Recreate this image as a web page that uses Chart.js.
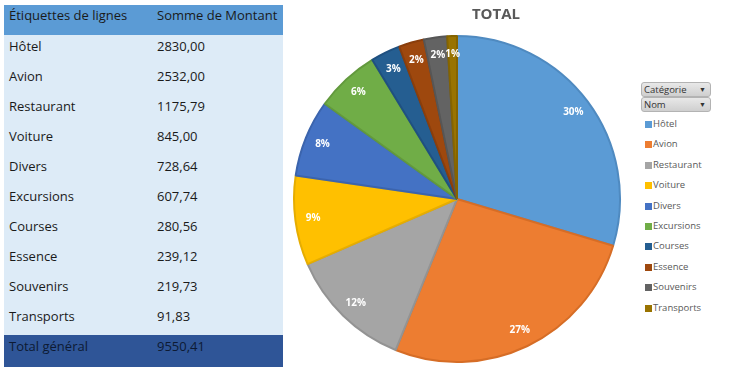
<!DOCTYPE html>
<html>
<head>
<meta charset="utf-8">
<script src="https://cdn.jsdelivr.net/npm/chart.js@4"></script>
<style>
  body { margin: 0; background: #fff; width: 735px; height: 377px; overflow: hidden; position: relative; font-family: "Open Sans", sans-serif; }
  #tbl { position: absolute; left: 4px; top: 5px; width: 279px; border-collapse: collapse; font-size: 13px; color: #1a1a1a; }
  #tbl td { box-sizing: border-box; height: 30px; padding: 0 0 9px 5px; line-height: 16px; vertical-align: middle; white-space: nowrap; }
  #tbl tr.head td { background: #5b9bd5; padding-bottom: 10px; }
  #tbl tr.row td { background: #ddebf7; }
  #tbl tr.total td { background: #2f5597; height: 32px; color: #0d1a33; padding-bottom: 10px; }
  #tbl td.c2 { padding-left: 0; }
  #wrap { position: absolute; left: 290px; top: 0; width: 334px; height: 377px; }
  #title { position: absolute; left: 446px; width: 100px; top: 3px; text-align: center; font-weight: bold; font-size: 15px; color: #595959; line-height: 20px; }
  .btn { position: absolute; left: 641px; width: 66px; height: 13px; border: 1px solid #b3b3b3; border-radius: 3px;
         background: linear-gradient(#e8e8e8, #cfcfcf); font-size: 9.5px; color: #333; line-height: 13px; padding-left: 2px; box-sizing: content-box; }
  .btn span { position: absolute; right: 4px; top: 0; font-size: 7px; }
  #legend { position: absolute; left: 645px; top: 116px; font-size: 9.5px; color: #595959; }
  #legend div { height: 20.4px; line-height: 16px; position: relative; padding-left: 8px; }
  #legend i { position: absolute; left: 0; top: 5px; width: 7px; height: 7px; }
</style>
</head>
<body>
<table id="tbl"></table>
<div id="wrap"><canvas id="pie"></canvas></div>
<div id="title"></div>
<div class="btn" style="top:82px">Catégorie<span>&#9660;</span></div>
<div class="btn" style="top:97px">Nom<span>&#9660;</span></div>
<div id="legend"></div>
<script>
var categories = ['Hôtel', 'Avion', 'Restaurant', 'Voiture', 'Divers', 'Excursions', 'Courses', 'Essence', 'Souvenirs', 'Transports'];
var montants = [2830.00, 2532.00, 1175.79, 845.00, 728.64, 607.74, 280.56, 239.12, 219.73, 91.83];
var pctLabels = ['30%', '27%', '12%', '9%', '8%', '6%', '3%', '2%', '2%', '1%'];
var headers = ['Étiquettes de lignes', 'Somme de Montant'];
var totalLabel = 'Total général';
var chartTitle = 'TOTAL';

var colors = ['#5b9bd5', '#ed7d31', '#a5a5a5', '#ffc000', '#4472c4', '#70ad47', '#255e91', '#9e480e', '#636363', '#997300'];
var borders = ['#4f8ac0', '#d66d26', '#939393', '#e6ad00', '#3b64ad', '#62993d', '#1f5080', '#8a3e0c', '#565656', '#856400'];

function fmt(v) { return v.toFixed(2).replace('.', ','); }

// tableau
var tbl = document.getElementById('tbl');
var html = '<tr class="head"><td>' + headers[0] + '</td><td class="c2">' + headers[1] + '</td></tr>';
var total = 0;
categories.forEach(function (c, i) {
    total += montants[i];
    html += '<tr class="row"><td>' + c + '</td><td class="c2">' + fmt(montants[i]) + '</td></tr>';
});
html += '<tr class="total"><td>' + totalLabel + '</td><td class="c2">' + fmt(total) + '</td></tr>';
tbl.innerHTML = html;
tbl.querySelectorAll('tr').forEach(function (tr) { tr.firstChild.style.width = '153px'; });

document.getElementById('title').textContent = chartTitle;

// légende
var leg = document.getElementById('legend');
categories.forEach(function (c, i) {
    leg.innerHTML += '<div><i style="background:' + colors[i] + '"></i>' + c + '</div>';
});

// étiquettes de pourcentage dans les parts
var pctPlugin = {
    id: 'pct',
    afterDatasetsDraw: function (chart) {
        var ctx = chart.ctx;
        var meta = chart.getDatasetMeta(0);
        ctx.save();
        ctx.font = 'bold 10px "Open Sans", sans-serif';
        ctx.fillStyle = '#ffffff';
        ctx.textAlign = 'center';
        ctx.textBaseline = 'middle';
        meta.data.forEach(function (arc, i) {
            var a = (arc.startAngle + arc.endAngle) / 2;
            var r = arc.outerRadius * 0.89;
            ctx.fillText(pctLabels[i], arc.x + Math.cos(a) * r, arc.y + Math.sin(a) * r);
        });
        ctx.restore();
    }
};

new Chart(document.getElementById('pie'), {
    type: 'pie',
    data: {
        labels: categories,
        datasets: [{
            data: montants,
            backgroundColor: colors,
            borderColor: borders,
            borderWidth: 2,
            hoverOffset: 0
        }]
    },
    options: {
        responsive: true,
        maintainAspectRatio: false,
        animation: false,
        layout: { padding: { top: 35, bottom: 14 } },
        plugins: {
            legend: { display: false },
            tooltip: { enabled: false },
            title: { display: false }
        }
    },
    plugins: [pctPlugin]
});
</script>
</body>
</html>
